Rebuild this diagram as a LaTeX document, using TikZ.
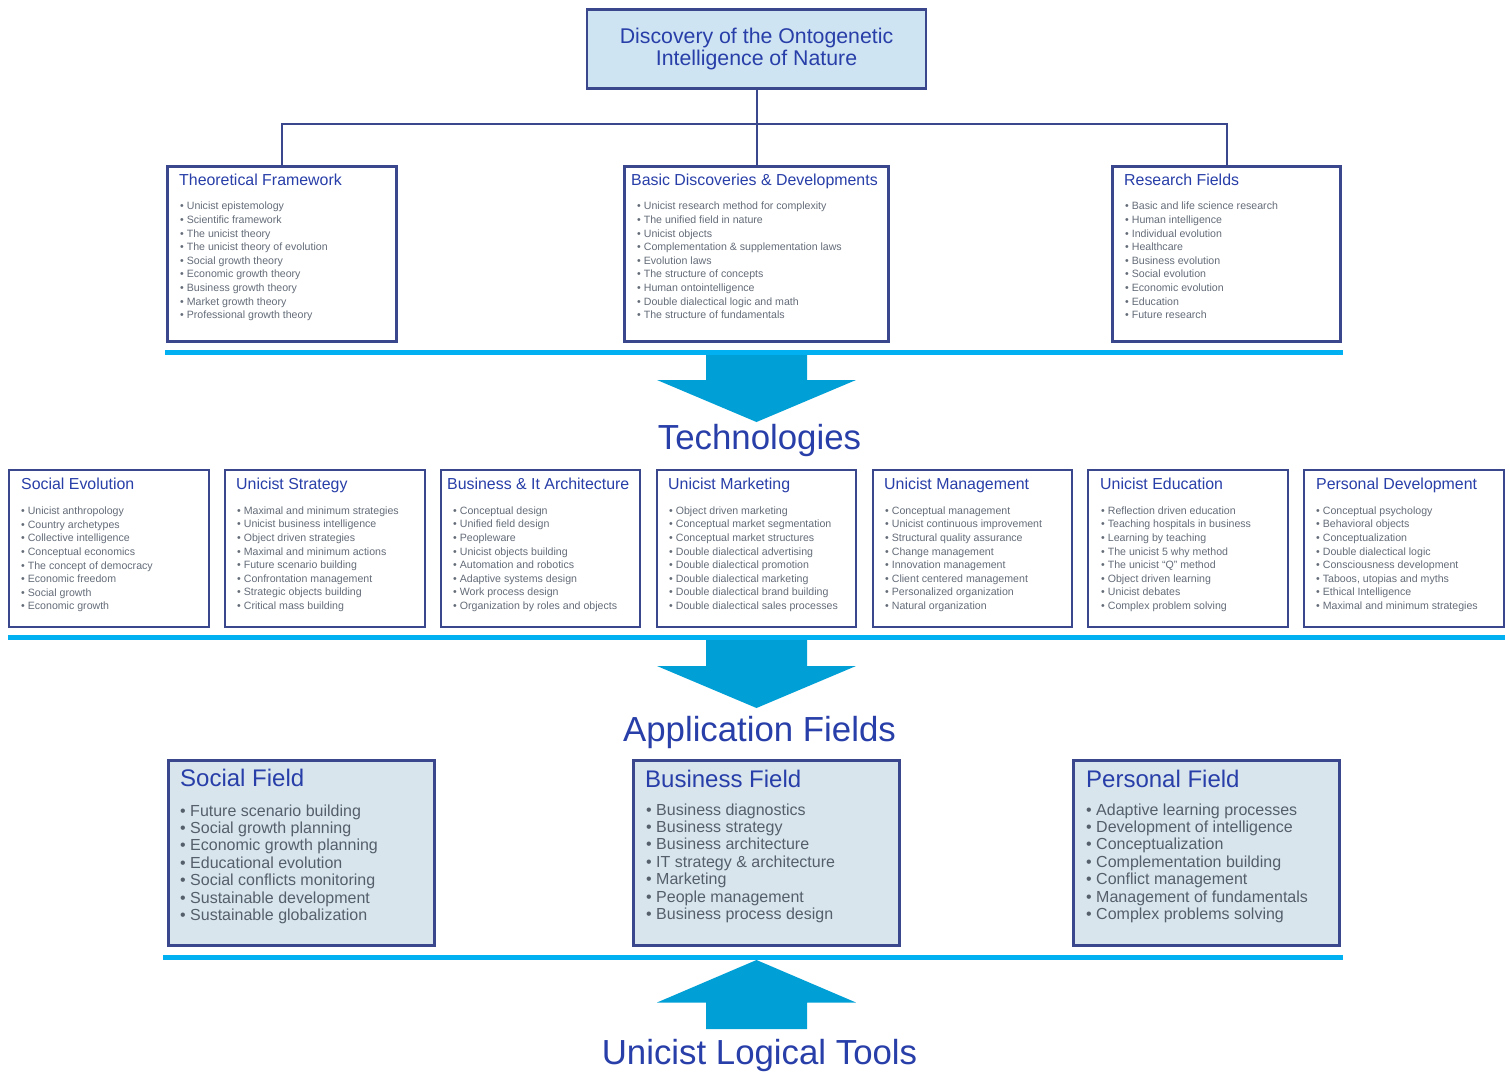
\documentclass[tikz,border=0pt]{standalone}
\usepackage{fontspec}
\setmainfont{Liberation Sans}
\definecolor{navy}{RGB}{59,71,140}
\definecolor{tblue}{RGB}{40,62,168}
\definecolor{igray}{RGB}{100,108,120}
\definecolor{igray2}{RGB}{85,95,108}
\definecolor{cyanbar}{RGB}{0,176,240}
\definecolor{arrowblue}{RGB}{0,160,214}
\definecolor{topfill}{RGB}{206,228,242}
\definecolor{botfill}{RGB}{216,229,237}
\tikzset{
  box/.style={draw=navy, line width=2.8pt, fill=white, inner sep=0pt, outer sep=0pt},
  topbox/.style={box, fill=topfill},
  botbox/.style={draw=navy, line width=2.4pt, fill=botfill, inner sep=0pt, outer sep=0pt},
  conn/.style={draw=navy, line width=2pt},
  ttl/.style={font=\fontsize{15.9}{18}\selectfont, text=tblue, inner sep=0pt, anchor=base west},
  bigttl/.style={font=\fontsize{24}{28}\selectfont, text=tblue, inner sep=0pt, anchor=base west},
  smallitem/.style={font=\fontsize{10.6}{12}\selectfont, text=igray, inner sep=0pt, anchor=base west},
  bigitem/.style={font=\fontsize{16}{19}\selectfont, text=igray2, inner sep=0pt, anchor=base west},
  heading/.style={font=\fontsize{34.8}{40}\selectfont, text=tblue, inner sep=0pt, anchor=base},
  bar/.style={fill=cyanbar},
  blockarrow/.style={fill=arrowblue}
}
\newcommand\itemlist[6]{%
  \foreach \t [count=\i from 0] in {#6}
    \node[#5] (#1\i) at (#2, #3+#4*\i) {\textbullet\ \t};%
}
\begin{document}
\begin{tikzpicture}[x=1pt,y=-1pt]
\useasboundingbox (0,0) rectangle (1510,1072);
\fill[white] (0,0) rectangle (1510,1072);

% top box
\node[topbox, minimum width=339pt, minimum height=79pt, align=center,
      font=\fontsize{21.3}{22.5}\selectfont, text=tblue] (top) at (756.5,49)
      {Discovery of the Ontogenetic\\Intelligence of Nature};

% top row boxes
\node[box, minimum width=229pt, minimum height=175pt] (tf) at (282,254) {};
\node[box, minimum width=264pt, minimum height=175pt] (bd) at (756.5,254) {};
\node[box, minimum width=228pt, minimum height=175pt] (rf) at (1226.5,254) {};

% connectors
\coordinate (hub) at (756.5,124);
\draw[conn] (top.south) -- (hub);
\draw[conn] (tf.north) |- (hub) -| (rf.north);
\draw[conn] (hub) -- (bd.north);

\node[ttl] (tft) at (179,185) {Theoretical Framework};
\node[ttl] (bdt) at (631,185) {Basic Discoveries \& Developments};
\node[ttl] (rft) at (1124,185) {Research Fields};

\itemlist{tfi}{180}{209.8}{13.63}{smallitem}{Unicist epistemology, Scientific framework, The unicist theory, The unicist theory of evolution, Social growth theory, Economic growth theory, Business growth theory, Market growth theory, Professional growth theory}
\itemlist{bdi}{637}{209.8}{13.63}{smallitem}{Unicist research method for complexity, The unified field in nature, Unicist objects, Complementation \& supplementation laws, Evolution laws, The structure of concepts, Human ontointelligence, Double dialectical logic and math, The structure of fundamentals}
\itemlist{rfi}{1125}{209.8}{13.63}{smallitem}{Basic and life science research, Human intelligence, Individual evolution, Healthcare, Business evolution, Social evolution, Economic evolution, Education, Future research}

% bar 1 and arrow 1
\fill[bar] (165,350) rectangle (1343,355);
\fill[blockarrow] (706,355) -- (706,380) -- (657,380) -- (756.5,422) -- (856,380) -- (807,380) -- (807,355) -- cycle;
\node[heading] (tech) at (759.5,449.5) {Technologies};

% middle row boxes
\node[box, minimum width=200pt, minimum height=157pt] (m1) at (109,548.5) {};
\node[box, minimum width=200pt, minimum height=157pt] (m2) at (325,548.5) {};
\node[box, minimum width=199pt, minimum height=157pt] (m3) at (540.5,548.5) {};
\node[box, minimum width=199pt, minimum height=157pt] (m4) at (756.5,548.5) {};
\node[box, minimum width=199pt, minimum height=157pt] (m5) at (972.5,548.5) {};
\node[box, minimum width=200pt, minimum height=157pt] (m6) at (1188,548.5) {};
\node[box, minimum width=200pt, minimum height=157pt] (m7) at (1404,548.5) {};

\node[ttl] (m1t) at (21,489) {Social Evolution};
\node[ttl] (m2t) at (236,489) {Unicist Strategy};
\node[ttl] (m3t) at (447,489) {Business \& It Architecture};
\node[ttl] (m4t) at (668,489) {Unicist Marketing};
\node[ttl] (m5t) at (884,489) {Unicist Management};
\node[ttl] (m6t) at (1100,489) {Unicist Education};
\node[ttl] (m7t) at (1316,489) {Personal Development};

\itemlist{m1i}{21}{514.8}{13.57}{smallitem}{Unicist anthropology, Country archetypes, Collective intelligence, Conceptual economics, The concept of democracy, Economic freedom, Social growth, Economic growth}
\itemlist{m2i}{237}{514.4}{13.57}{smallitem}{Maximal and minimum strategies, Unicist business intelligence, Object driven strategies, Maximal and minimum actions, Future scenario building, Confrontation management, Strategic objects building, Critical mass building}
\itemlist{m3i}{453}{514.4}{13.57}{smallitem}{Conceptual design, Unified field design, Peopleware, Unicist objects building, Automation and robotics, Adaptive systems design, Work process design, Organization by roles and objects}
\itemlist{m4i}{669}{514.4}{13.57}{smallitem}{Object driven marketing, Conceptual market segmentation, Conceptual market structures, Double dialectical advertising, Double dialectical promotion, Double dialectical marketing, Double dialectical brand building, Double dialectical sales processes}
\itemlist{m5i}{885}{514.4}{13.57}{smallitem}{Conceptual management, Unicist continuous improvement, Structural quality assurance, Change management, Innovation management, Client centered management, Personalized organization, Natural organization}
\itemlist{m6i}{1101}{514.4}{13.57}{smallitem}{Reflection driven education, Teaching hospitals in business, Learning by teaching, The unicist 5 why method, The unicist “Q” method, Object driven learning, Unicist debates, Complex problem solving}
\itemlist{m7i}{1316}{514.4}{13.57}{smallitem}{Conceptual psychology, Behavioral objects, Conceptualization, Double dialectical logic, Consciousness development, {Taboos, utopias and myths}, Ethical Intelligence, Maximal and minimum strategies}

% bar 2 and arrow 2
\fill[bar] (8,635) rectangle (1505,640);
\fill[blockarrow] (706,640) -- (706,666) -- (657,666) -- (756.5,708) -- (856,666) -- (807,666) -- (807,640) -- cycle;
\node[heading] (apps) at (759.5,741) {Application Fields};

% bottom boxes
\node[botbox, minimum width=266pt, minimum height=185pt] (sf) at (301.5,853) {};
\node[botbox, minimum width=266pt, minimum height=185pt] (bf) at (766.5,853) {};
\node[botbox, minimum width=266pt, minimum height=185pt] (pf) at (1206.5,853) {};

\node[bigttl] (sft) at (180,786) {Social Field};
\node[bigttl] (bft) at (645,787) {Business Field};
\node[bigttl] (pft) at (1086,787) {Personal Field};

\itemlist{sfi}{180}{816}{17.45}{bigitem}{Future scenario building, Social growth planning, Economic growth planning, Educational evolution, Social conflicts monitoring, Sustainable development, Sustainable globalization}
\itemlist{bfi}{646}{815}{17.45}{bigitem}{Business diagnostics, Business strategy, Business architecture, IT strategy \& architecture, Marketing, People management, Business process design}
\itemlist{pfi}{1086}{815}{17.45}{bigitem}{Adaptive learning processes, Development of intelligence, Conceptualization, Complementation building, Conflict management, Management of fundamentals, Complex problems solving}

% bar 3 and up arrow
\fill[bar] (163,955) rectangle (1343,960);
\fill[blockarrow] (706,1029) -- (706,1002.5) -- (657,1002.5) -- (756.5,960) -- (856,1002.5) -- (807,1002.5) -- (807,1029) -- cycle;
\node[heading] (tools) at (759.5,1064.5) {Unicist Logical Tools};
\end{tikzpicture}
\end{document}
